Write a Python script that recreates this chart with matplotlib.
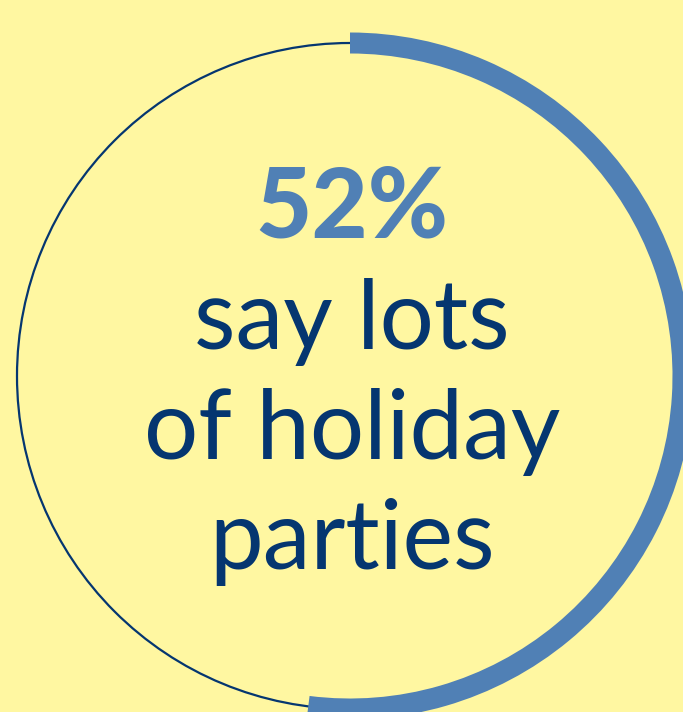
import matplotlib.pyplot as plt
from matplotlib.patches import Circle, Wedge

# data
pct = 52
label_big = f"{pct}%"
label_lines = ["say lots", "of holiday", "parties"]

bg = "#FFF7A1"
blue = "#5080B5"
navy = "#053670"

W, H = 683, 712
fig = plt.figure(figsize=(W / 100, H / 100), dpi=100, facecolor=bg)
ax = fig.add_axes([0, 0, 1, 1])
ax.set_xlim(0, W)
ax.set_ylim(H, 0)
ax.set_facecolor(bg)
ax.axis("off")

cx, cy, r = 350, 376, 333
ax.add_patch(Circle((cx, cy), r, fill=False, ec=navy, lw=1.6))
# progress arc, clockwise from 12 o'clock (y axis is flipped)
ax.add_patch(Wedge((cx, cy), r + 10.5, -90, -90 + 360 * pct / 100,
                   width=21, fc=blue, ec="none"))

ax.text(cx + 2, 237, label_big, ha="center", va="baseline", fontsize=70,
        fontweight="black", color=blue, family="Lato")
for i, s in enumerate(label_lines):
    ax.text(cx + 2, 349 + i * 110, s, ha="center", va="baseline", fontsize=69,
            fontweight="normal", color=navy, family="Lato")

fig.savefig("out.png", dpi=100, facecolor=bg)
